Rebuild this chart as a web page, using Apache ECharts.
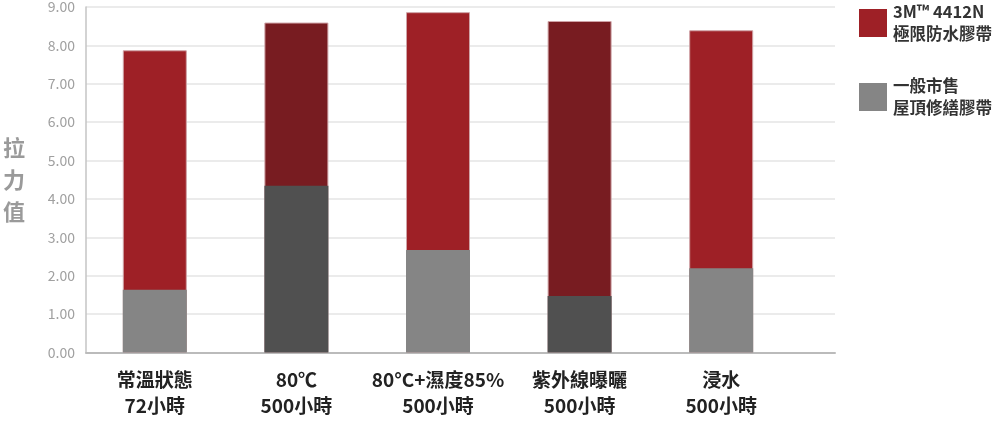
<!DOCTYPE html>
<html>
<head>
<meta charset="utf-8">
<script src="https://cdn.jsdelivr.net/npm/echarts@6/dist/echarts.min.js"></script>
<style>html,body{margin:0;padding:0;background:#fff;}#c{width:1000px;height:434px;}</style>
</head>
<body>
<div id="c"></div>
<script>
var categories = ['常溫狀態\n72小時', '80℃\n500小時', '80°C+濕度85%\n500小時', '紫外線曝曬\n500小時', '浸水\n500小時'];
var series3M = [7.85, 8.57, 8.84, 8.61, 8.37];
var seriesGeneric = [1.63, 4.33, 2.66, 1.47, 2.19];
var seriesNames = ['3M™ 4412N\n極限防水膠帶', '一般市售\n屋頂修繕膠帶'];
var yTicks = [0, 1, 2, 3, 4, 5, 6, 7, 8, 9];
var darkIdx = [1, 3];

var FONT = '"Noto Sans CJK TC", "Noto Sans", sans-serif';
var RED = '#9e2026', RED_D = '#781c21', GREY = '#858585', GREY_D = '#505050';

function build(vals, c, cd) {
  return vals.map(function (v, i) {
    return { value: v, itemStyle: { color: darkIdx.indexOf(i) >= 0 ? cd : c } };
  });
}

var chart = echarts.init(document.getElementById('c'), null, { renderer: 'canvas' });
chart.setOption({
  animation: false,
  textStyle: { fontFamily: FONT },
  legend: {
    orient: 'vertical',
    left: 854,
    top: -4,
    itemWidth: 28,
    itemHeight: 28,
    itemGap: 30,
    icon: 'rect',
    itemStyle: { borderWidth: 0 },
    data: seriesNames,
    textStyle: { fontFamily: FONT, fontSize: 16.5, fontWeight: 'bold', color: '#333', lineHeight: 22, padding: [0, 0, 0, 1] }
  },
  grid: [
    { left: 84, right: 165, top: 6, bottom: 81.5 },
    { left: 84, width: 708, top: 6, bottom: 81.5 }
  ],
  xAxis: [
    { gridIndex: 0, type: 'value', min: 0, max: 1, show: true,
      axisLine: { show: true, lineStyle: { color: '#bbbbbb', width: 2 } },
      axisTick: { show: false }, axisLabel: { show: false }, splitLine: { show: false } },
    { gridIndex: 1, type: 'category', data: categories,
      axisLine: { show: false }, axisTick: { show: false },
      axisLabel: { margin: 14, fontFamily: FONT, fontSize: 19, fontWeight: 'bold', color: '#222', lineHeight: 26, interval: 0 } }
  ],
  yAxis: [
    { gridIndex: 0, type: 'value', min: yTicks[0], max: yTicks[yTicks.length - 1], interval: 1,
      name: '拉\n力\n值', nameLocation: 'middle', nameRotate: 0, nameGap: 61,
      nameTextStyle: { fontFamily: FONT, fontSize: 22, fontWeight: 'bold', color: '#9a9a9a', lineHeight: 32 },
      axisLine: { show: true, lineStyle: { color: '#c4c4c4', width: 1.5 } },
      axisTick: { show: false },
      axisLabel: { margin: 11, fontFamily: FONT, fontSize: 14, color: '#a0a0a0', formatter: function (v) { return v.toFixed(2); } },
      splitLine: { show: true, lineStyle: { color: '#e4e4e4', width: 1.5 } } },
    { gridIndex: 1, type: 'value', min: 0, max: 9, show: false, splitLine: { show: false } }
  ],
  series: [
    { name: seriesNames[0], type: 'bar', xAxisIndex: 1, yAxisIndex: 1, barWidth: 64, barGap: '-100%',
      itemStyle: { color: RED, borderColor: '#cfa3a7', borderWidth: 1 },
      data: build(series3M, RED, RED_D) },
    { name: seriesNames[1], type: 'bar', xAxisIndex: 1, yAxisIndex: 1, barWidth: 64, barGap: '-100%',
      itemStyle: { color: GREY },
      data: build(seriesGeneric, GREY, GREY_D) }
  ]
});
</script>
</body>
</html>
